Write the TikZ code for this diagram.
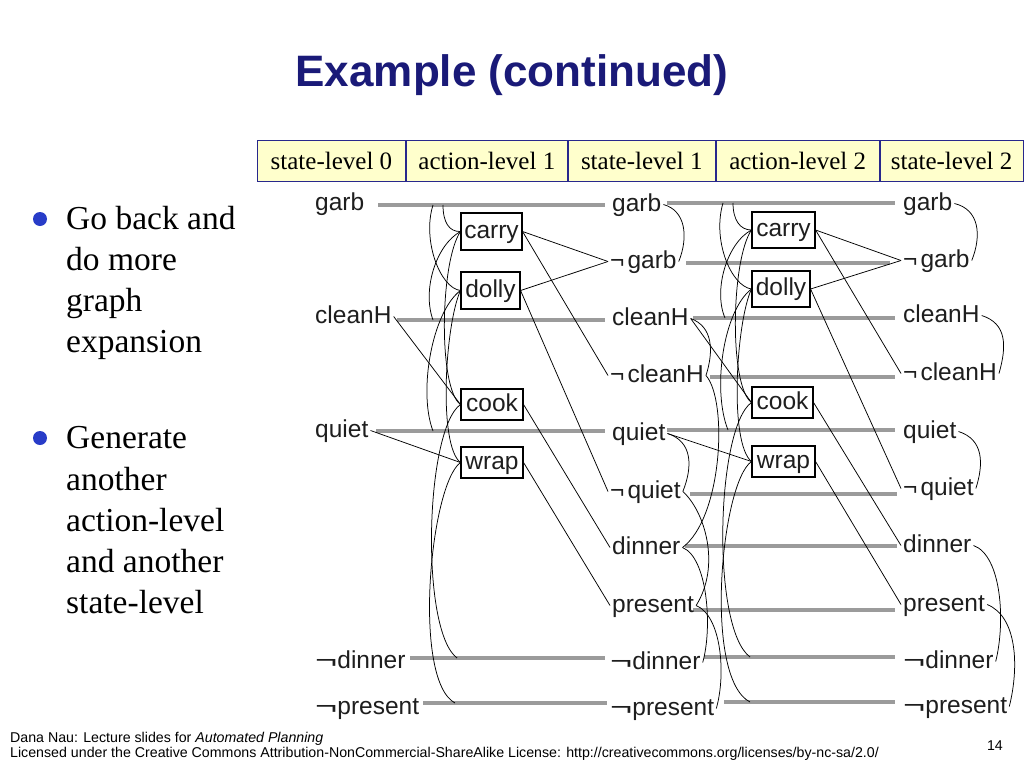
\documentclass[tikz,border=0pt]{standalone}
\usepackage{fontspec}
\usepackage{graphicx}
\setmainfont{Liberation Serif}
\newfontfamily\arial{Liberation Sans}
\definecolor{titleblue}{RGB}{26,26,120}
\definecolor{hdrfill}{RGB}{255,255,204}
\definecolor{hdrline}{RGB}{40,40,140}
\definecolor{dotblue}{RGB}{40,60,200}
\definecolor{bargray}{RGB}{155,155,155}
\definecolor{lbltext}{RGB}{30,30,30}
\newcommand{\wneg}{\scalebox{1.55}[1]{¬}}
\newcommand{\sneg}{¬\kern3pt}
\begin{document}
\begin{tikzpicture}[x=1pt,y=-1pt,
  lbl/.style={anchor=base west,inner xsep=2pt,inner ysep=0pt,text height=18pt,text depth=5pt,font=\arial\fontsize{24.5}{29}\selectfont,text=lbltext},
  actbox/.style={draw=black,line width=1.1pt,inner sep=0pt,text height=18pt,text depth=5pt,font=\arial\fontsize{24.5}{29}\selectfont,text=lbltext},
  noopbar/.style={draw=bargray,line width=4.5pt},
  link/.style={draw=black,line width=0.75pt},
  mtx/.style={draw=black,line width=0.75pt},
  hdr/.style={draw=hdrline,fill=hdrfill,line width=0.9pt,minimum height=41pt,inner sep=0pt,font=\fontsize{25}{30}\selectfont,anchor=west},
  bul/.style={anchor=base west,inner sep=0pt,font=\fontsize{33.5}{41}\selectfont},
  foot/.style={anchor=base west,inner sep=0pt,font=\arial\fontsize{14.2}{16}\selectfont}
]
\useasboundingbox (0,0) rectangle (1024,768);
\fill[white] (0,0) rectangle (1024,768);

% title
\node[font=\arial\bfseries\fontsize{44}{50}\selectfont,text=titleblue] (title) at (512,75) {Example (continued)};

% header
\node[hdr,minimum width=148pt] (h0) at (257,160.5) {state-level 0};
\node[hdr,minimum width=161pt] (h1) at (h0.east) {action-level 1};
\node[hdr,minimum width=147pt] (h2) at (h1.east) {state-level 1};
\node[hdr,minimum width=163pt] (h3) at (h2.east) {action-level 2};
\node[hdr,minimum width=143pt] (h4) at (h3.east) {state-level 2};

% bullets
\fill[dotblue] (40,219) circle (7pt);
\fill[dotblue] (40,438) circle (7pt);
\node[bul] (b1) at (66,229) {Go back and};
\node[bul] (b2) at (66,270) {do more};
\node[bul] (b3) at (66,311) {graph};
\node[bul] (b4) at (66,352) {expansion};
\node[bul] (b5) at (66,448) {Generate};
\node[bul] (b6) at (66,490) {another};
\node[bul] (b7) at (66,531) {action-level};
\node[bul] (b8) at (66,572) {and another};
\node[bul] (b9) at (66,613) {state-level};

% no-op bars
\draw[noopbar] (378,205) -- (605,205);
\draw[noopbar] (397,320) -- (605,320);
\draw[noopbar] (376,431) -- (605,431);
\draw[noopbar] (410,658) -- (605,658);
\draw[noopbar] (423,703) -- (607,703);
\draw[noopbar] (667,203) -- (895,203);
\draw[noopbar] (686,263) -- (890,263);
\draw[noopbar] (693,318) -- (895,318);
\draw[noopbar] (710,377) -- (895,377);
\draw[noopbar] (667,430) -- (895,430);
\draw[noopbar] (690,494) -- (897,494);
\draw[noopbar] (685,546) -- (897,546);
\draw[noopbar] (693,610) -- (895,610);
\draw[noopbar] (704,657) -- (895,657);
\draw[noopbar] (724,702) -- (895,702);

% state-level 0
\node[lbl] (garb0) at (313,210) {garb};
\node[lbl] (cleanH0) at (313,323) {cleanH};
\node[lbl] (quiet0) at (313,437) {quiet};
\node[lbl] (ndinner0) at (313,668) {\wneg dinner};
\node[lbl] (npresent0) at (313,714) {\wneg present};

% state-level 1
\node[lbl] (garb1) at (610,211) {garb};
\node[lbl] (ngarb1) at (608,268) {\sneg garb};
\node[lbl] (cleanH1) at (610,325) {cleanH};
\node[lbl] (ncleanH1) at (608,382) {\sneg cleanH};
\node[lbl] (quiet1) at (610,440) {quiet};
\node[lbl] (nquiet1) at (608,498) {\sneg quiet};
\node[lbl] (dinner1) at (610,554) {dinner};
\node[lbl] (present1) at (610,612) {present};
\node[lbl] (ndinner1) at (608,669) {\wneg dinner};
\node[lbl] (npresent1) at (608,715) {\wneg present};

% state-level 2
\node[lbl] (garb2) at (901,210) {garb};
\node[lbl] (ngarb2) at (901,267) {\sneg garb};
\node[lbl] (cleanH2) at (901,322) {cleanH};
\node[lbl] (ncleanH2) at (901,380) {\sneg cleanH};
\node[lbl] (quiet2) at (901,438) {quiet};
\node[lbl] (nquiet2) at (901,495) {\sneg quiet};
\node[lbl] (dinner2) at (901,552) {dinner};
\node[lbl] (present2) at (901,611) {present};
\node[lbl] (ndinner2) at (901,668) {\wneg dinner};
\node[lbl] (npresent2) at (901,713) {\wneg present};

% action boxes
\node[actbox,minimum width=61pt,minimum height=37pt] (carry1) at (491.5,231.5) {carry};
\node[actbox,minimum width=59pt,minimum height=37pt] (dolly1) at (490.5,290.5) {dolly};
\node[actbox,minimum width=62pt,minimum height=31pt] (cook1) at (492,404.5) {cook};
\node[actbox,minimum width=62pt,minimum height=31pt] (wrap1) at (492,462.5) {wrap};
\node[actbox,minimum width=63pt,minimum height=36pt] (carry2) at (783.5,230) {carry};
\node[actbox,minimum width=58pt,minimum height=36pt] (dolly2) at (781,289) {dolly};
\node[actbox,minimum width=61pt,minimum height=31pt] (cook2) at (782.5,402.5) {cook};
\node[actbox,minimum width=63pt,minimum height=31pt] (wrap2) at (783.5,461.5) {wrap};

% preconditions and effects, level 1
\draw[link] (cleanH0.east) -- (cook1.west);
\draw[link] (quiet0.east) -- (wrap1.west);
\draw[link] (carry1.east) -- (ngarb1.west);
\draw[link] (carry1.east) -- (ncleanH1.west);
\draw[link] (dolly1.east) -- (ngarb1.west);
\draw[link] (dolly1.east) -- (nquiet1.west);
\draw[link] (cook1.east) -- (dinner1.west);
\draw[link] (wrap1.east) -- (present1.west);

% preconditions and effects, level 2
\draw[link] (cleanH1.east) -- (cook2.west);
\draw[link] (quiet1.east) -- (wrap2.west);
\draw[link] (carry2.east) -- (ngarb2.west);
\draw[link] (carry2.east) -- (ncleanH2.west);
\draw[link] (dolly2.east) -- (ngarb2.west);
\draw[link] (dolly2.east) -- (nquiet2.west);
\draw[link] (cook2.east) -- (dinner2.west);
\draw[link] (wrap2.east) -- (present2.west);

% touch points on no-op bars
\coordinate (gb0a) at (443,205);
\coordinate (gb0b) at (433,205);
\coordinate (cb0) at (433,320);
\coordinate (qb0) at (433,431);
\coordinate (ndb0) at (457,658);
\coordinate (npb0) at (455,703);
\coordinate (gb1a) at (733,203);
\coordinate (gb1b) at (723,203);
\coordinate (cb1) at (725,318);
\coordinate (qb1) at (728,430);
\coordinate (ndb1) at (750,657);
\coordinate (npb1) at (750,702);

% action mutexes, level 1
\draw[mtx] (gb0a) .. controls (443,222) and (449,232) .. (carry1.west);
\draw[mtx] (gb0b) .. controls (422,240) and (440,288) .. (dolly1.west);
\draw[mtx] (carry1.west) .. controls (436,245) and (422,290) .. (cb0);
\draw[mtx] (carry1.west) .. controls (440,262) and (438,388) .. (cook1.west);
\draw[mtx] (dolly1.west) .. controls (432,312) and (418,392) .. (qb0);
\draw[mtx] (dolly1.west) .. controls (445,325) and (438,445) .. (wrap1.west);
\draw[mtx] (cook1.west) .. controls (425,430) and (420,630) .. (ndb0);
\draw[mtx] (wrap1.west) .. controls (430,485) and (412,680) .. (npb0);

% action mutexes, level 2
\draw[mtx] (gb1a) .. controls (733,220) and (740,230) .. (carry2.west);
\draw[mtx] (gb1b) .. controls (712,240) and (731,286) .. (dolly2.west);
\draw[mtx] (carry2.west) .. controls (727,243) and (713,290) .. (cb1);
\draw[mtx] (carry2.west) .. controls (731,260) and (729,386) .. (cook2.west);
\draw[mtx] (dolly2.west) .. controls (723,311) and (712,390) .. (qb1);
\draw[mtx] (dolly2.west) .. controls (736,323) and (729,443) .. (wrap2.west);
\draw[mtx] (cook2.west) .. controls (716,428) and (711,628) .. (ndb1);
\draw[mtx] (wrap2.west) .. controls (721,483) and (703,678) .. (npb1);

% proposition mutexes, state-level 1
\draw[mtx] (garb1.east) .. controls +(22,6) and +(10,-25) .. (ngarb1.east);
\draw[mtx] (cleanH1.east) .. controls +(22,8) and +(8,-25) .. (ncleanH1.east);
\draw[mtx] (quiet1.east) .. controls +(25,8) and +(10,-25) .. (nquiet1.east);
\draw[mtx] (dinner1.east) .. controls +(25,10) and +(10,-35) .. (ndinner1.east);
\draw[mtx] (present1.east) .. controls +(25,10) and +(10,-35) .. (npresent1.east);
\draw[mtx] (ncleanH1.east) .. controls +(22,25) and +(40,-30) .. (dinner1.east);
\draw[mtx] (nquiet1.east) .. controls +(22,20) and +(25,-40) .. (present1.east);

% proposition mutexes, state-level 2
\draw[mtx] (garb2.east) .. controls +(25,6) and +(10,-25) .. (ngarb2.east);
\draw[mtx] (cleanH2.east) .. controls +(25,8) and +(8,-28) .. (ncleanH2.east);
\draw[mtx] (quiet2.east) .. controls +(25,8) and +(8,-25) .. (nquiet2.east);
\draw[mtx] (dinner2.east) .. controls +(28,10) and +(10,-40) .. (ndinner2.east);
\draw[mtx] (present2.east) .. controls +(30,12) and +(10,-40) .. (npresent2.east);

% footer
\node[foot] (f1) at (10,742) {Dana Nau: Lecture slides for \textit{Automated Planning}};
\node[foot] (f2) at (10,757) {Licensed under the Creative Commons Attribution-NonCommercial-ShareAlike License: http://creativecommons.org/licenses/by-nc-sa/2.0/};
\node[foot,anchor=base east] (pg) at (1003,750) {14};
\end{tikzpicture}
\end{document}
